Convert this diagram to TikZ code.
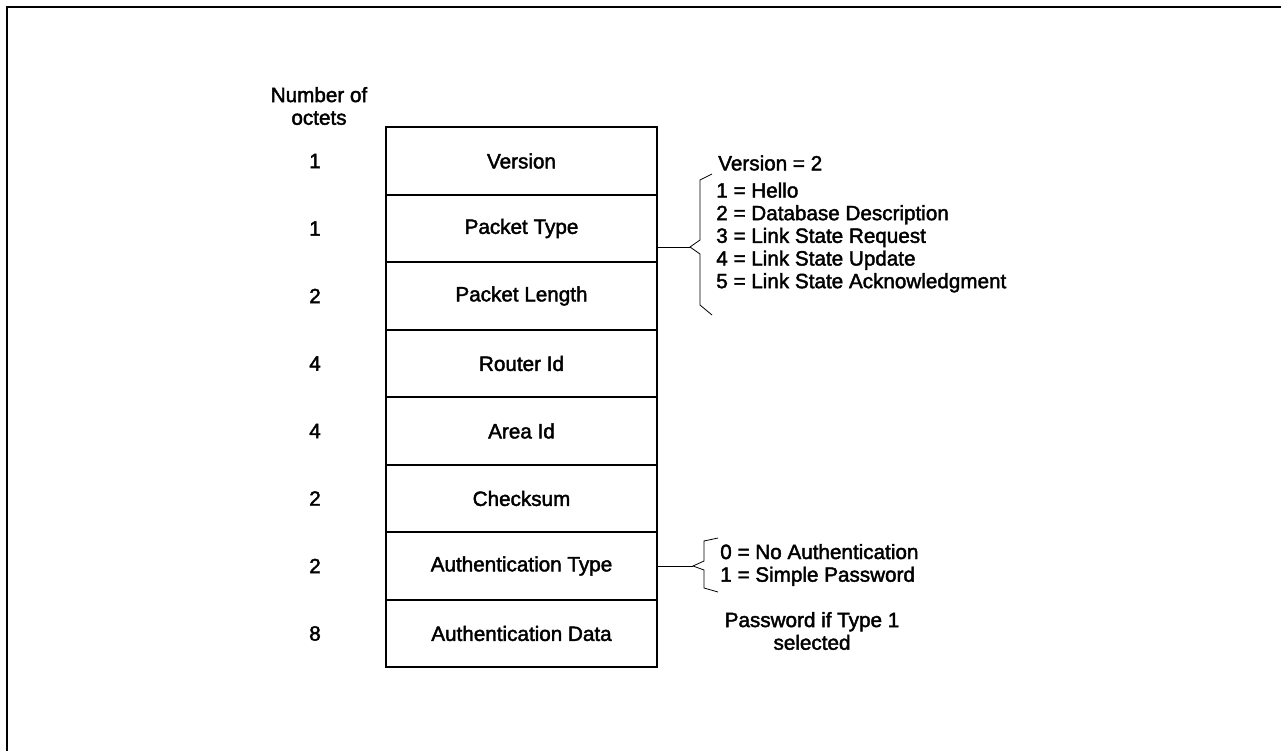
\documentclass[tikz,border=0pt]{standalone}
\usepackage{fontspec}
\setmainfont{Liberation Sans}
\newfontfamily\hv[FakeBold=2]{Liberation Sans}
\begin{document}
\begin{tikzpicture}[x=0.75pt,y=-0.75pt,
  txt/.style={font=\hv\fontsize{15.5}{17}\selectfont},
  field/.style={draw,line width=1.5pt,minimum width=203.25pt,minimum height=50.6pt,inner sep=0pt,txt},
  lbl/.style={inner sep=0pt,txt},
  lst/.style={inner sep=0pt,align=left,anchor=west,txt},
  brk/.style={line width=0.6pt}]
\useasboundingbox (0,0) rectangle (1281,750);
\draw[line width=1.5pt] (7,760) -- (7,7) -- (1290,7);
% fields
\node[field] (ver) at (521.5,161) {Version};
\node[field] (ptype) at (521.5,228.5) {Packet Type};
\node[field] (plen) at (521.5,296) {Packet Length};
\node[field] (rid) at (521.5,363.5) {Router Id};
\node[field] (aid) at (521.5,431) {Area Id};
\node[field] (csum) at (521.5,498.5) {Checksum};
\node[field] (atype) at (521.5,566) {Authentication Type};
\node[field] (adata) at (521.5,633.5) {Authentication Data};
% octet counts
\node[lbl,align=center] (hdr) at (319,106) {Number of\\octets};
\node[lbl] (n1) at (315,161) {1};
\node[lbl] (n2) at (315,228.5) {1};
\node[lbl] (n3) at (315,296) {2};
\node[lbl] (n4) at (315,363.5) {4};
\node[lbl] (n5) at (315,431) {4};
\node[lbl] (n6) at (315,498.5) {2};
\node[lbl] (n7) at (315,566) {2};
\node[lbl] (n8) at (315,633.5) {8};
% notes
\node[lst] (vnote) at (718,163) {Version = 2};
\node[lst] (tlist) at (716,237.5) {1 = Hello\\2 = Database Description\\3 = Link State Request\\4 = Link State Update\\5 = Link State Acknowledgment};
\node[lst] (alist) at (720,565) {0 = No Authentication\\1 = Simple Password};
\node[lbl,align=center] (pw) at (812,631) {Password if Type 1\\selected};
% bracket 1
\coordinate (t1) at (690,247);
\draw[brk] (t1 -| ptype.east) -- (t1);
\draw[brk] (712,174) -- (700,180) -- (700,240) -- (t1) -- (700,254) -- (700,305) -- (712,315);
% bracket 2
\coordinate (t2) at (693,566);
\draw[brk] (atype.east) -- (t2);
\draw[brk] (718,538) -- (704,541) -- (704,561) -- (t2) -- (704,570) -- (704,588) -- (718,592);
\end{tikzpicture}
\end{document}
